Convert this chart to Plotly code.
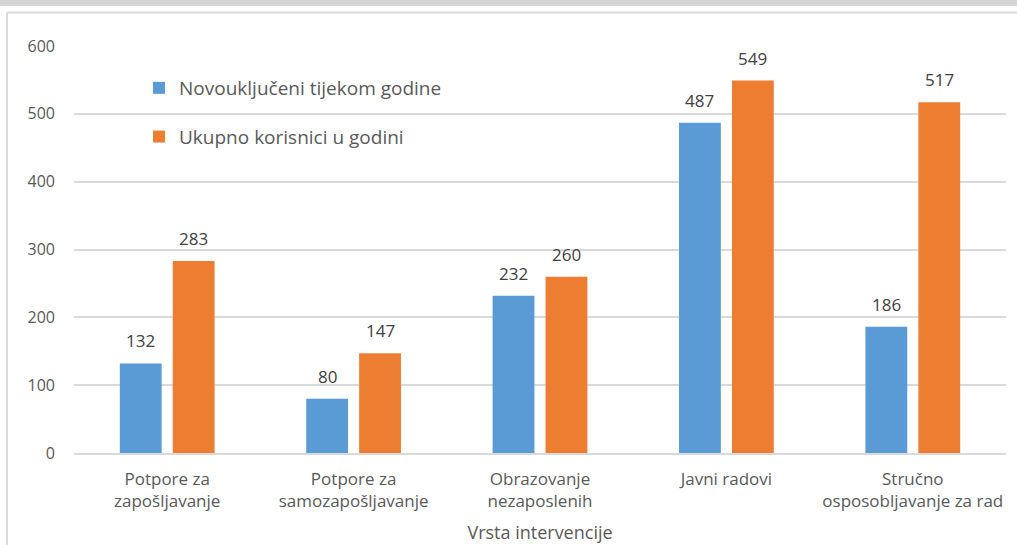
import plotly.graph_objects as go

categories = ["Potpore za<br>zapošljavanje", "Potpore za<br>samozapošljavanje",
              "Obrazovanje<br>nezaposlenih", "Javni radovi",
              "Stručno<br>osposobljavanje za rad"]
novouklj = [132, 80, 232, 487, 186]
ukupno = [283, 147, 260, 549, 517]
series_names = ["Novouključeni tijekom godine", "Ukupno korisnici u godini"]
yticks = [0, 100, 200, 300, 400, 500, 600]

FONT = "Open Sans"
TXT = "#595959"
LBL = "#404040"

L, R, T, B = 74, 11, 46, 92
W, H = 1017, 545
pw = W - L - R
ph = H - T - B


def px_x(x):
    return (x - L) / pw


def px_y(y):
    return (H - B - y) / ph


fig = go.Figure()
fig.add_trace(go.Bar(x=categories, y=novouklj, name=series_names[0],
                     marker_color="#5B9BD5", marker_line_width=0,
                     legendgroup="a"))
fig.add_trace(go.Bar(x=categories, y=ukupno, name=series_names[1],
                     marker_color="#ED7D31", marker_line_width=0,
                     legendgroup="b"))

# value labels above bars (grouped offset in pixels)
annotations = []
slot = pw / len(categories) * (1 - 0.432) / 2
for vals, sh in ((novouklj, -slot / 2), (ukupno, slot / 2)):
    for c, v in zip(categories, vals):
        annotations.append(dict(x=c, y=v, xref="x", yref="y", text=str(v),
                                showarrow=False, xshift=sh, yshift=9,
                                yanchor="bottom", xanchor="center",
                                font=dict(size=17, color=LBL, family=FONT)))

fig.update_layout(
    width=W, height=H,
    margin=dict(l=L, r=R, t=T, b=B, pad=0),
    paper_bgcolor="white", plot_bgcolor="white",
    barmode="group", bargap=0.432, bargroupgap=0.21,
    font=dict(family=FONT, color=TXT, size=16),
    showlegend=True,
    legend=dict(x=px_x(139), y=px_y(69), xanchor="left", yanchor="top",
                bgcolor="rgba(0,0,0,0)", font=dict(size=19, color=TXT, family=FONT),
                tracegroupgap=21, itemwidth=30),
    xaxis=dict(showgrid=False, showline=True, linecolor="#d9d9d9", linewidth=1.5,
               ticks="", tickfont=dict(size=17, color=TXT), ticklabelstandoff=10,
               automargin=False,
               title=dict(text="Vrsta intervencije", font=dict(size=18, color=TXT), standoff=15)),
    yaxis=dict(range=[0, 600], tickvals=yticks, showgrid=True, gridcolor="#d9d9d9",
               gridwidth=1.5, zeroline=False, showline=False, ticks="",
               automargin=False,
               ticklabelstandoff=18, tickfont=dict(size=16, color=TXT)),
    annotations=annotations,
    shapes=[
        dict(type="rect", xref="paper", yref="paper", x0=px_x(-2), x1=px_x(W + 2),
             y0=px_y(6), y1=px_y(-2), fillcolor="#d4d4d4", line_width=0),
        dict(type="line", xref="paper", yref="paper", x0=px_x(7), x1=px_x(W + 5),
             y0=px_y(12.5), y1=px_y(12.5), line=dict(color="#d9d9d9", width=2)),
        dict(type="line", xref="paper", yref="paper", x0=px_x(7), x1=px_x(7),
             y0=px_y(12.5), y1=px_y(H + 5), line=dict(color="#d9d9d9", width=2)),
    ],
)

fig.write_html("out.html", config={"displayModeBar": False},
               post_script="document.body.style.margin='0';document.body.style.overflow='hidden';")
